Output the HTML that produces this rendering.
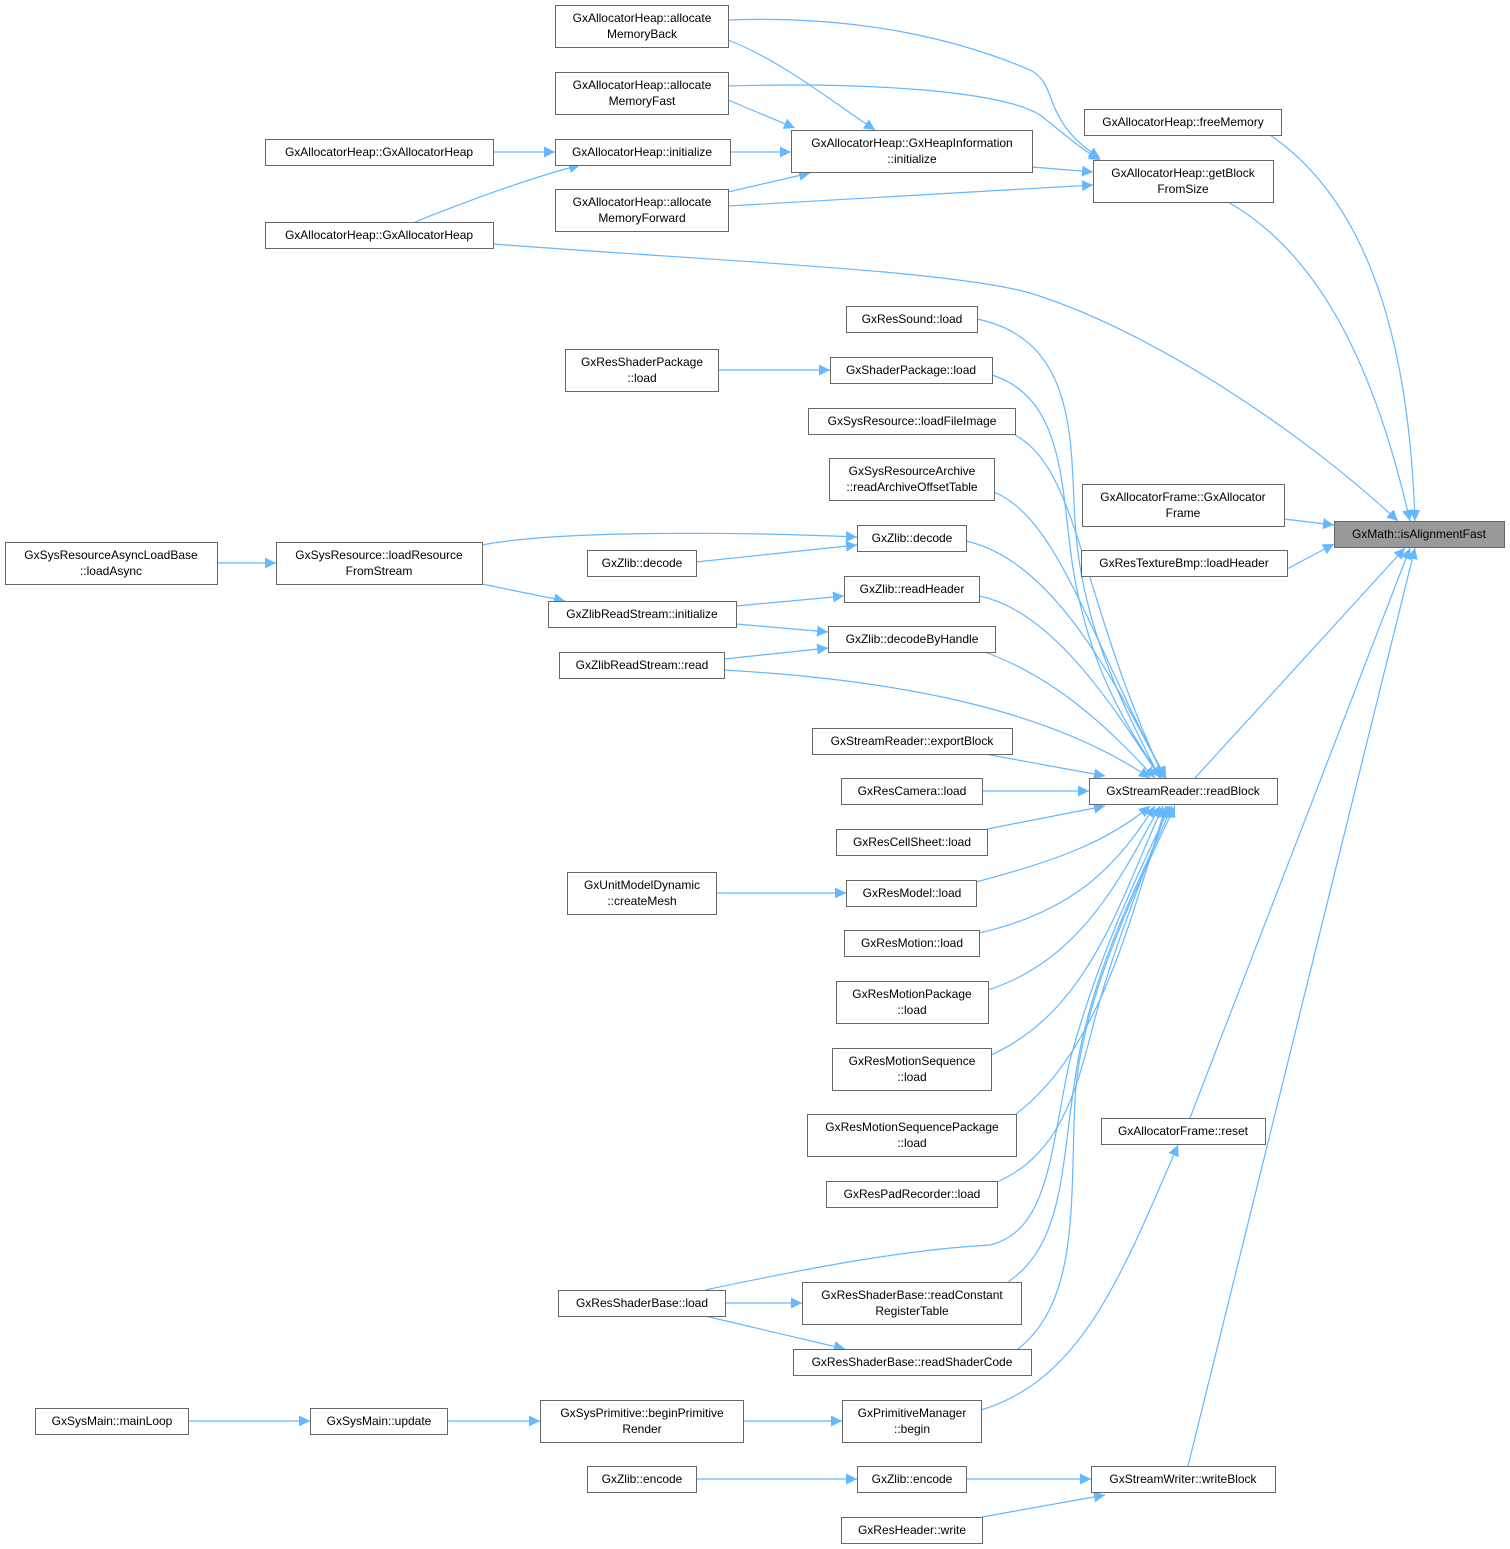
<!DOCTYPE html>
<html><head><meta charset="utf-8">
<style>
html,body{margin:0;padding:0;background:#fff;}
svg{display:block;}
text{font-family:"Liberation Sans",Arial,sans-serif;font-size:12px;fill:#000;}
.n{fill:#fff;stroke:#666;stroke-width:1;}
.e{fill:none;stroke:#63b8ff;stroke-width:1.2;}
</style></head><body>
<svg width="1510" height="1549" viewBox="0 0 1510 1549" xmlns="http://www.w3.org/2000/svg">
<defs>
<marker id="a" viewBox="0 0 10 10" refX="10" refY="5" markerWidth="11" markerHeight="11" markerUnits="userSpaceOnUse" orient="auto">
<path d="M0,0 L10,5 L0,10 z" fill="#63b8ff"/>
</marker>
</defs>
<g class="edges" marker-end="url(#a)">
<path class="e" marker-end="url(#a)" d="M728,40 C780,60 830,100 875,130"/>
<path class="e" marker-end="url(#a)" d="M728,20 C860,15 960,40 1030,70 C1060,85 1040,120 1100,158"/>
<path class="e" marker-end="url(#a)" d="M728,86 C860,82 1000,90 1040,115 C1060,130 1075,145 1100,160"/>
<path class="e" marker-end="url(#a)" d="M728,100 L795,128"/>
<path class="e" marker-end="url(#a)" d="M730,152 L791,152"/>
<path class="e" marker-end="url(#a)" d="M493,152 L555,152"/>
<path class="e" marker-end="url(#a)" d="M415,222 C470,200 530,178 580,165"/>
<path class="e" marker-end="url(#a)" d="M728,192 L810,173"/>
<path class="e" marker-end="url(#a)" d="M728,206 L1093,185"/>
<path class="e" marker-end="url(#a)" d="M1032,167 L1093,172"/>
<path class="e" marker-end="url(#a)" d="M1228,202 C1330,260 1380,390 1410,521"/>
<path class="e" marker-end="url(#a)" d="M1270,135 C1380,210 1410,370 1415,521"/>
<path class="e" marker-end="url(#a)" d="M493,244 C700,260 950,270 1030,293 C1150,330 1300,430 1398,521"/>
<path class="e" marker-end="url(#a)" d="M1284,519 L1334,525"/>
<path class="e" marker-end="url(#a)" d="M1287,569 L1334,544"/>
<path class="e" marker-end="url(#a)" d="M1195,778 L1405,548"/>
<path class="e" marker-end="url(#a)" d="M1190,1118 L1410,548"/>
<path class="e" marker-end="url(#a)" d="M1188,1466 L1415,548"/>
<!-- fan into readBlock from above -->
<path class="e" marker-end="url(#a)" d="M977,319 C1080,340 1070,450 1075,520 C1080,620 1120,700 1160,778"/>
<path class="e" marker-end="url(#a)" d="M992,375 C1070,400 1060,500 1075,580 C1090,660 1120,720 1162,778"/>
<path class="e" marker-end="url(#a)" d="M1015,435 C1080,470 1080,600 1164,778"/>
<path class="e" marker-end="url(#a)" d="M994,492 C1060,520 1090,640 1166,778"/>
<path class="e" marker-end="url(#a)" d="M966,541 C1050,560 1110,670 1165,778"/>
<path class="e" marker-end="url(#a)" d="M979,596 C1050,610 1110,700 1160,778"/>
<path class="e" marker-end="url(#a)" d="M985,652 C1060,680 1110,730 1155,778"/>
<path class="e" marker-end="url(#a)" d="M724,670 C900,680 1050,710 1150,778"/>
<path class="e" marker-end="url(#a)" d="M985,754 L1105,776"/>
<path class="e" marker-end="url(#a)" d="M982,791 L1089,791"/>
<path class="e" marker-end="url(#a)" d="M987,829 L1105,806"/>
<!-- fan from below -->
<path class="e" marker-end="url(#a)" d="M976,882 C1060,860 1110,840 1150,806"/>
<path class="e" marker-end="url(#a)" d="M979,933 C1080,910 1120,860 1155,806"/>
<path class="e" marker-end="url(#a)" d="M988,990 C1080,960 1120,880 1160,806"/>
<path class="e" marker-end="url(#a)" d="M991,1055 C1090,1010 1120,900 1163,806"/>
<path class="e" marker-end="url(#a)" d="M1016,1114 C1100,1050 1130,920 1166,806"/>
<path class="e" marker-end="url(#a)" d="M997,1182 C1070,1150 1080,1070 1100,1000 C1120,930 1150,860 1168,806"/>
<path class="e" marker-end="url(#a)" d="M705,1290 C800,1270 900,1250 990,1245 C1050,1230 1050,1150 1070,1060 C1100,950 1140,870 1170,806"/>
<path class="e" marker-end="url(#a)" d="M1008,1282 C1070,1240 1060,1150 1080,1050 C1100,950 1150,860 1172,806"/>
<path class="e" marker-end="url(#a)" d="M1018,1349 C1080,1300 1070,1200 1075,1100 C1080,1000 1140,880 1175,806"/>
<!-- left side -->
<path class="e" marker-end="url(#a)" d="M718,370 L830,370"/>
<path class="e" marker-end="url(#a)" d="M482,545 C560,530 740,532 857,537"/>
<path class="e" marker-end="url(#a)" d="M696,562 L857,545"/>
<path class="e" marker-end="url(#a)" d="M482,584 L565,601"/>
<path class="e" marker-end="url(#a)" d="M217,563 L276,563"/>
<path class="e" marker-end="url(#a)" d="M736,606 L844,596"/>
<path class="e" marker-end="url(#a)" d="M736,624 L828,632"/>
<path class="e" marker-end="url(#a)" d="M724,659 L828,648"/>
<path class="e" marker-end="url(#a)" d="M716,893 L846,893"/>
<path class="e" marker-end="url(#a)" d="M725,1303 L802,1303"/>
<path class="e" marker-end="url(#a)" d="M705,1316 L845,1349"/>
<path class="e" marker-end="url(#a)" d="M188,1421 L310,1421"/>
<path class="e" marker-end="url(#a)" d="M447,1421 L540,1421"/>
<path class="e" marker-end="url(#a)" d="M743,1421 L842,1421"/>
<path class="e" marker-end="url(#a)" d="M981,1410 C1080,1380 1120,1280 1178,1145"/>
<path class="e" marker-end="url(#a)" d="M696,1479 L857,1479"/>
<path class="e" marker-end="url(#a)" d="M966,1479 L1091,1479"/>
<path class="e" marker-end="url(#a)" d="M982,1517 L1105,1495"/>
</g>

<g text-anchor="middle">
<rect class="n" x="555.5" y="5.5" width="173" height="42"/><text x="642" y="22">GxAllocatorHeap::allocate</text><text x="642" y="38">MemoryBack</text>
<rect class="n" x="555.5" y="72.5" width="173" height="42"/><text x="642" y="89">GxAllocatorHeap::allocate</text><text x="642" y="105">MemoryFast</text>
<rect class="n" x="555.5" y="139.5" width="175" height="26"/><text x="642" y="156">GxAllocatorHeap::initialize</text>
<rect class="n" x="555.5" y="189.5" width="173" height="42"/><text x="642" y="206">GxAllocatorHeap::allocate</text><text x="642" y="222">MemoryForward</text>
<rect class="n" x="265.5" y="139.5" width="228" height="26"/><text x="379" y="156">GxAllocatorHeap::GxAllocatorHeap</text>
<rect class="n" x="265.5" y="222.5" width="228" height="26"/><text x="379" y="239">GxAllocatorHeap::GxAllocatorHeap</text>
<rect class="n" x="791.5" y="130.5" width="241" height="42"/><text x="912" y="147">GxAllocatorHeap::GxHeapInformation</text><text x="912" y="163">::initialize</text>
<rect class="n" x="1084.5" y="109.5" width="197" height="26"/><text x="1183" y="126">GxAllocatorHeap::freeMemory</text>
<rect class="n" x="1093.5" y="160.5" width="180" height="42"/><text x="1183" y="177">GxAllocatorHeap::getBlock</text><text x="1183" y="193">FromSize</text>
<rect x="1334.5" y="521.5" width="170" height="26" fill="#999" stroke="#666"/><text x="1419" y="538">GxMath::isAlignmentFast</text>
<rect class="n" x="1082.5" y="484.5" width="202" height="42"/><text x="1183" y="501">GxAllocatorFrame::GxAllocator</text><text x="1183" y="517">Frame</text>
<rect class="n" x="1081.5" y="550.5" width="206" height="26"/><text x="1184" y="567">GxResTextureBmp::loadHeader</text>
<rect class="n" x="1089.5" y="778.5" width="188" height="26"/><text x="1183" y="795">GxStreamReader::readBlock</text>
<rect class="n" x="1101.5" y="1118.5" width="164" height="26"/><text x="1183" y="1135">GxAllocatorFrame::reset</text>
<rect class="n" x="1091.5" y="1466.5" width="184" height="26"/><text x="1183" y="1483">GxStreamWriter::writeBlock</text>

<rect class="n" x="846.5" y="306.5" width="131" height="26"/><text x="912" y="323">GxResSound::load</text>
<rect class="n" x="830.5" y="357.5" width="162" height="26"/><text x="911" y="374">GxShaderPackage::load</text>
<rect class="n" x="808.5" y="408.5" width="207" height="26"/><text x="912" y="425">GxSysResource::loadFileImage</text>
<rect class="n" x="829.5" y="458.5" width="165" height="42"/><text x="912" y="475">GxSysResourceArchive</text><text x="912" y="491">::readArchiveOffsetTable</text>
<rect class="n" x="857.5" y="525.5" width="109" height="26"/><text x="912" y="542">GxZlib::decode</text>
<rect class="n" x="844.5" y="576.5" width="135" height="26"/><text x="912" y="593">GxZlib::readHeader</text>
<rect class="n" x="828.5" y="626.5" width="167" height="26"/><text x="912" y="643">GxZlib::decodeByHandle</text>
<rect class="n" x="812.5" y="728.5" width="200" height="26"/><text x="912" y="745">GxStreamReader::exportBlock</text>
<rect class="n" x="841.5" y="778.5" width="141" height="26"/><text x="912" y="795">GxResCamera::load</text>
<rect class="n" x="836.5" y="829.5" width="151" height="26"/><text x="912" y="846">GxResCellSheet::load</text>
<rect class="n" x="846.5" y="880.5" width="130" height="26"/><text x="912" y="897">GxResModel::load</text>
<rect class="n" x="844.5" y="930.5" width="135" height="26"/><text x="912" y="947">GxResMotion::load</text>
<rect class="n" x="836.5" y="981.5" width="152" height="42"/><text x="912" y="998">GxResMotionPackage</text><text x="912" y="1014">::load</text>
<rect class="n" x="832.5" y="1048.5" width="159" height="42"/><text x="912" y="1065">GxResMotionSequence</text><text x="912" y="1081">::load</text>
<rect class="n" x="807.5" y="1114.5" width="209" height="42"/><text x="912" y="1131">GxResMotionSequencePackage</text><text x="912" y="1147">::load</text>
<rect class="n" x="826.5" y="1181.5" width="171" height="26"/><text x="912" y="1198">GxResPadRecorder::load</text>
<rect class="n" x="802.5" y="1282.5" width="219" height="42"/><text x="912" y="1299">GxResShaderBase::readConstant</text><text x="912" y="1315">RegisterTable</text>
<rect class="n" x="793.5" y="1349.5" width="238" height="26"/><text x="912" y="1366">GxResShaderBase::readShaderCode</text>
<rect class="n" x="842.5" y="1400.5" width="139" height="42"/><text x="912" y="1417">GxPrimitiveManager</text><text x="912" y="1433">::begin</text>
<rect class="n" x="857.5" y="1466.5" width="109" height="26"/><text x="912" y="1483">GxZlib::encode</text>
<rect class="n" x="841.5" y="1517.5" width="141" height="26"/><text x="912" y="1534">GxResHeader::write</text>

<rect class="n" x="565.5" y="349.5" width="153" height="42"/><text x="642" y="366">GxResShaderPackage</text><text x="642" y="382">::load</text>
<rect class="n" x="587.5" y="550.5" width="109" height="26"/><text x="642" y="567">GxZlib::decode</text>
<rect class="n" x="548.5" y="601.5" width="188" height="26"/><text x="642" y="618">GxZlibReadStream::initialize</text>
<rect class="n" x="559.5" y="652.5" width="165" height="26"/><text x="642" y="669">GxZlibReadStream::read</text>
<rect class="n" x="567.5" y="872.5" width="149" height="42"/><text x="642" y="889">GxUnitModelDynamic</text><text x="642" y="905">::createMesh</text>
<rect class="n" x="558.5" y="1290.5" width="167" height="26"/><text x="642" y="1307">GxResShaderBase::load</text>
<rect class="n" x="540.5" y="1400.5" width="203" height="42"/><text x="642" y="1417">GxSysPrimitive::beginPrimitive</text><text x="642" y="1433">Render</text>
<rect class="n" x="587.5" y="1466.5" width="109" height="26"/><text x="642" y="1483">GxZlib::encode</text>
<rect class="n" x="276.5" y="542.5" width="206" height="42"/><text x="379" y="559">GxSysResource::loadResource</text><text x="379" y="575">FromStream</text>
<rect class="n" x="5.5" y="542.5" width="212" height="42"/><text x="111" y="559">GxSysResourceAsyncLoadBase</text><text x="111" y="575">::loadAsync</text>
<rect class="n" x="35.5" y="1408.5" width="153" height="26"/><text x="112" y="1425">GxSysMain::mainLoop</text>
<rect class="n" x="310.5" y="1408.5" width="137" height="26"/><text x="379" y="1425">GxSysMain::update</text>
</g>
</svg>
</body></html>
